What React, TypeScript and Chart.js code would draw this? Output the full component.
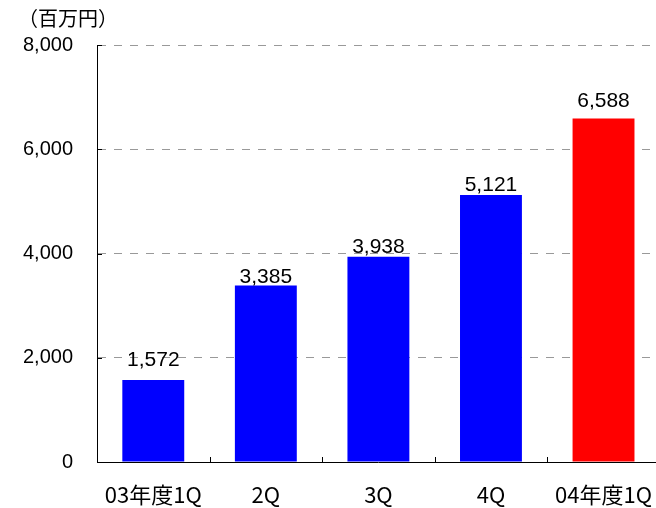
import React, { useEffect, useRef } from "react";
import { Chart, registerables } from "chart.js";

Chart.register(...registerables);

const categories = ["03年度1Q", "2Q", "3Q", "4Q", "04年度1Q"];
const values = [1572, 3385, 3938, 5121, 6588];
const barColors = ["#0000ff", "#0000ff", "#0000ff", "#0000ff", "#ff0000"];
const unitLabel = "（百万円）";
const yMax = 8000;
const yStep = 2000;
// gap (px) between each value label and its bar top, as in the reference
const labelGaps = [14, 3, 4, 4, 12];

const NUM_FONT = "'Liberation Sans', Arial, sans-serif";
const CAT_FONT = "'Noto Sans CJK JP', sans-serif";

const extrasPlugin = {
  id: "extras",
  afterDatasetsDraw(chart: any) {
    const { ctx, chartArea } = chart;
    const meta = chart.getDatasetMeta(0);
    ctx.save();
    // value labels
    ctx.fillStyle = "#000";
    ctx.font = `21px ${NUM_FONT}`;
    ctx.textAlign = "center";
    ctx.textBaseline = "alphabetic";
    meta.data.forEach((bar: any, i: number) => {
      ctx.fillText(values[i].toLocaleString("en-US"), bar.x, bar.y - labelGaps[i]);
    });
    // x tick marks (inward, at category boundaries)
    const xs = chart.scales.x;
    ctx.strokeStyle = "#000";
    ctx.lineWidth = 1;
    for (let i = 1; i < categories.length; i++) {
      const x = Math.round((xs.getPixelForValue(i - 1) + xs.getPixelForValue(i)) / 2) + 0.5;
      ctx.beginPath();
      ctx.moveTo(x, chartArea.bottom);
      ctx.lineTo(x, chartArea.bottom - 5);
      ctx.stroke();
    }
    // y tick marks (inward)
    const ys = chart.scales.y;
    for (let v = 0; v <= yMax; v += yStep) {
      const y = Math.round(ys.getPixelForValue(v)) + 0.5;
      ctx.beginPath();
      ctx.moveTo(chartArea.left, y);
      ctx.lineTo(chartArea.left + 5, y);
      ctx.stroke();
    }
    // unit label
    ctx.font = `20px ${CAT_FONT}`;
    ctx.textAlign = "left";
    ctx.textBaseline = "middle";
    ctx.fillText(unitLabel, 18, 18);
    ctx.restore();
  },
};

export default function App() {
  const ref = useRef<HTMLCanvasElement>(null);
  useEffect(() => {
    if (!ref.current) return;
    const chart = new Chart(ref.current, {
      type: "bar",
      data: {
        labels: categories,
        datasets: [
          {
            data: values,
            backgroundColor: barColors,
            borderWidth: 0,
            barPercentage: 0.55,
            categoryPercentage: 1,
          },
        ],
      },
      options: {
        responsive: false,
        animation: false,
        layout: { padding: { top: 45, left: 0, right: 0, bottom: 0 } },
        plugins: {
          legend: { display: false },
          tooltip: { enabled: false },
          title: { display: false },
        },
        scales: {
          x: {
            grid: { display: false, drawTicks: false },
            border: { display: true, color: "#000", width: 1 },
            ticks: {
              color: "#000",
              font: { family: CAT_FONT, size: 22 },
              padding: 19,
              maxRotation: 0,
              autoSkip: false,
            },
            afterFit: (s: any) => {
              s.height = 46;
            },
          },
          y: {
            min: 0,
            max: yMax,
            ticks: {
              stepSize: yStep,
              color: "#000",
              font: { family: NUM_FONT, size: 20 },
              padding: 24,
            },
            grid: {
              drawTicks: false,
              color: (c: any) => (c.tick && c.tick.value === 0 ? "rgba(0,0,0,0)" : "#999999"),
              lineWidth: 1,
            },
            border: { display: true, color: "#000", width: 1, dash: [8, 8] as any },
            afterFit: (s: any) => {
              s.width = 97;
            },
          },
        },
      } as any,
      plugins: [extrasPlugin],
    });
    return () => chart.destroy();
  }, []);
  return (
    <div style={{ position: "fixed", left: 0, top: 0, width: 656, height: 508, overflow: "hidden", background: "#fff" }}>
      <canvas ref={ref} width={671} height={508} style={{ width: 671, height: 508, display: "block" }} />
    </div>
  );
}
